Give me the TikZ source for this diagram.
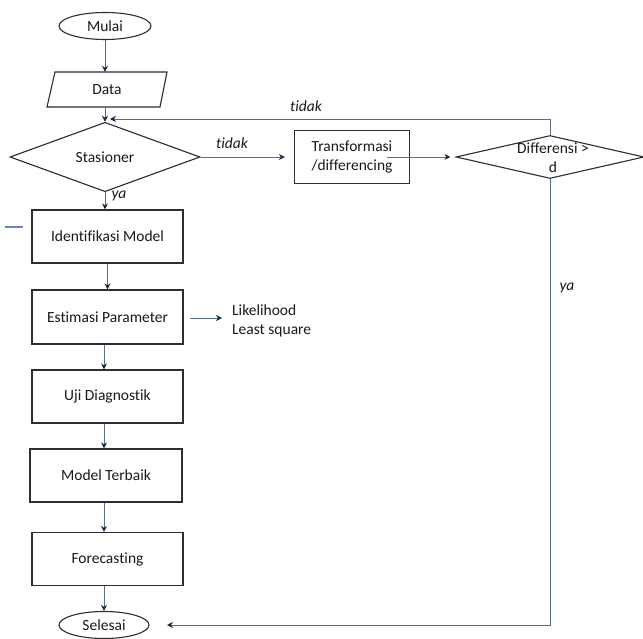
\documentclass[tikz,border=0pt]{standalone}
\usepackage{fontspec}
\setmainfont{Carlito}[Ligatures=NoCommon]
\usetikzlibrary{shapes.geometric,arrows.meta}
\definecolor{ln}{RGB}{88,110,140}
\definecolor{tipc}{RGB}{22,38,72}
\definecolor{bd}{RGB}{45,45,50}
\definecolor{stray}{RGB}{110,135,175}
\begin{document}
\begin{tikzpicture}[x=1pt,y=-1pt,
  every node/.style={font=\fontsize{15.5}{19}\selectfont, text=black!90},
  box/.style={draw=bd, line width=1.1pt, rectangle, inner sep=0pt, minimum width=151pt, minimum height=53pt},
  oval/.style={draw=bd, line width=1.1pt, ellipse, inner sep=0pt, minimum width=92pt, minimum height=27pt},
  decide/.style={draw=bd, line width=1.1pt, diamond, inner sep=0pt},
  arr/.style={draw=ln, line width=0.9pt, -{Stealth[length=6pt,width=6pt,color=tipc]}},
  lbl/.style={font=\fontsize{15.5}{19}\selectfont\itshape}
]
\useasboundingbox (0,0) rectangle (643,639);

% nodes
\node[oval] (mulai) at (105,26) {Mulai};
\node[inner sep=0pt, minimum width=112pt, minimum height=35pt] (data) at (107,89.5) {Data};
\draw[draw=bd, line width=1.1pt] (55,72) -- (167,72) -- (160,107) -- (47,107) -- cycle;
\node[decide, minimum width=190pt, minimum height=43pt] (stas) at (105,157) {Stasioner};
\node[box, minimum width=115pt, align=center] (trans) at (352,157) {Transformasi\\/differencing};
\node[decide, minimum width=188pt, minimum height=43pt] (dif) at (550,157) {};
\node[align=center, inner sep=0pt] (diftxt) at (553,158) {Differensi >\\d};
\node[box] (idm) at (107.5,236.5) {Identifikasi Model};
\node[box, minimum height=54pt] (est) at (107.5,317) {Estimasi Parameter};
\node[box] (uji) at (107.5,396.5) {Uji Diagnostik};
\node[box, minimum width=152pt] (mt) at (106,475.5) {Model Terbaik};
\node[box] (fc) at (107.5,559) {Forecasting};
\node[oval, minimum width=90pt] (sel) at (104,625) {Selesai};
\node[align=left, anchor=west, inner sep=0pt] (lik) at (232,321) {Likelihood\\Least square};

% labels
\node[lbl] (t1) at (306,106) {tidak};
\node[lbl] (t2) at (232,143) {tidak};
\node[lbl] (y1) at (119,196) {ya};
\node[lbl] (y2) at (567,288) {ya};

% coordinates
\coordinate (fb) at (110,119);
\coordinate (selin) at (167,625);
\coordinate (likin) at (222,318);
\coordinate (estout) at (190,318);

% connectors
\draw[arr] (mulai.south) -- (mulai.south |- data.north);
\draw[arr] (stas.north |- data.south) -- (stas.north);
\draw[arr] (stas.east) -- ([xshift=-9pt]trans.west);
\draw[arr] ([xshift=-23pt]trans.east) -- ([xshift=-5pt]dif.west);
\draw[arr] (dif.north) |- (fb);
\draw[arr] (dif.south) |- (selin);
\draw[arr] (stas.south) -- (stas.south |- idm.north);
\draw[arr] (idm.south) -- (est.north);
\draw[arr] ([xshift=-3.5pt]est.south) -- ([xshift=-3.5pt]uji.north);
\draw[arr] ([xshift=-3.5pt]uji.south) -- (mt.north -| 104,0);
\draw[arr] (mt.south -| 104,0) -- ([xshift=-3.5pt]fc.north);
\draw[arr] ([xshift=-3.5pt]fc.south) -- (sel.north -| 104,0);
\draw[arr] (estout) -- (likin);

% stray mark at the left edge
\draw[draw=stray, line width=1.3pt] (5,227) -- (23,227);
\end{tikzpicture}
\end{document}
